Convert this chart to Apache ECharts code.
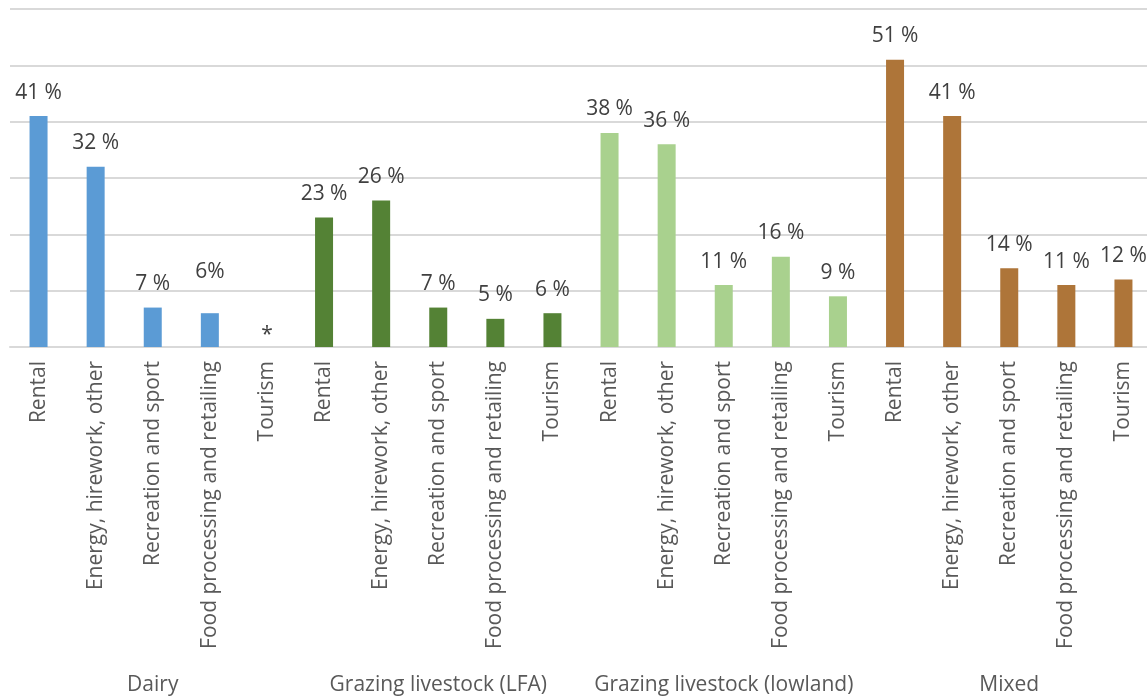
<!DOCTYPE html>
<html>
<head>
<meta charset="utf-8">
<script src="https://cdn.jsdelivr.net/npm/echarts@6/dist/echarts.min.js"></script>
<style>
  html, body { margin: 0; padding: 0; background: #ffffff; overflow: hidden; }
  /* plot area runs a few pixels past the right edge of the window */
  #chart { width: 1152px; height: 700px; }
</style>
</head>
<body>
<div id="chart"></div>
<script>
// Farm types (outer axis level) and diversification activities (inner level)
const groups = ['Dairy', 'Grazing livestock (LFA)', 'Grazing livestock (lowland)', 'Mixed'];
const activities = ['Rental', 'Energy, hirework, other', 'Recreation and sport', 'Food processing and retailing', 'Tourism'];

// Share of farms (%) per activity; null = suppressed value shown as "*"
const dairy   = [41, 32, 7, 6, null];
const lfa     = [23, 26, 7, 5, 6];
const lowland = [38, 36, 11, 16, 9];
const mixed   = [51, 41, 14, 11, 12];

const groupColors = ['#5B9BD5', '#548235', '#A9D18E', '#AE7539'];

const categories = [];
groups.forEach(() => activities.forEach(a => categories.push(a)));

const FONT = '"Open Sans", "DejaVu Sans", sans-serif';
const labelBase = {
  show: true,
  position: 'top',
  distance: 13,
  color: '#404040',
  fontFamily: FONT,
  fontSize: 21,
  formatter: p => p.value + ' %'
};

function buildSeries(values, gi) {
  const n = activities.length;
  const data = categories.map(() => '-');
  values.forEach((v, i) => {
    const idx = gi * n + i;
    if (v === null) {
      // suppressed value: no bar, only an asterisk at the baseline
      data[idx] = { value: 0, label: { formatter: '*', distance: 1 } };
    } else {
      data[idx] = v;
    }
  });
  return {
    type: 'bar',
    name: groups[gi],
    stack: 'all',
    barWidth: 18,
    itemStyle: { color: groupColors[gi] },
    label: labelBase,
    data: data
  };
}

const series = [dairy, lfa, lowland, mixed].map(buildSeries);
// Dairy food processing label sits higher and has no space before the sign
series[0].data[3] = { value: dairy[3], label: { formatter: p => p.value + '%', distance: 31 } };

const chart = echarts.init(document.getElementById('chart'), null, { renderer: 'canvas' });
chart.setOption({
  animation: false,
  backgroundColor: '#ffffff',
  grid: { left: 10, right: 0, top: 9, bottom: 353, containLabel: false },
  xAxis: [
    {
      type: 'category',
      data: categories,
      axisLine: { show: true, lineStyle: { color: '#d9d9d9', width: 2 } },
      axisTick: { show: false },
      axisLabel: {
        interval: 0,
        rotate: 90,
        margin: 14,
        color: '#595959',
        fontFamily: FONT,
        fontSize: 21
      }
    },
    {
      type: 'category',
      position: 'bottom',
      data: groups,
      axisLine: { show: false },
      axisTick: { show: false },
      axisLabel: {
        interval: 0,
        margin: 328,
        color: '#595959',
        fontFamily: FONT,
        fontSize: 21
      }
    }
  ],
  yAxis: {
    type: 'value',
    min: 0,
    max: 60,
    interval: 10,
    axisLabel: { show: false },
    axisLine: { show: false },
    axisTick: { show: false },
    splitLine: { show: true, lineStyle: { color: '#d9d9d9', width: 2 } }
  },
  series: series
});
</script>
</body>
</html>
